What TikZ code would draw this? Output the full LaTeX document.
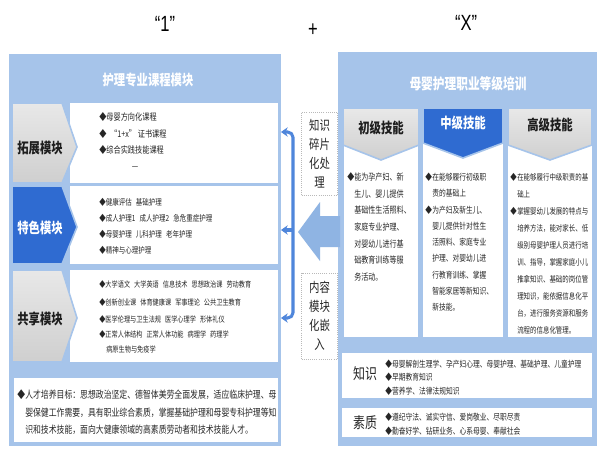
\documentclass[tikz,border=0pt]{standalone}
\usepackage{fontspec}
\setmainfont{Noto Sans CJK SC}[FakeStretch=0.78]
\newfontfamily\latfont{Liberation Sans}[FakeStretch=0.75]
\usetikzlibrary{arrows.meta}
\definecolor{panelblue}{HTML}{A6C4EA}
\definecolor{tabblue}{HTML}{2F6BD1}
\definecolor{tabgrayA}{HTML}{E8E8E8}
\definecolor{tabgrayB}{HTML}{CFCFCF}
\definecolor{txt}{HTML}{262626}
\definecolor{labtxt}{HTML}{1E1E1E}
\definecolor{arrowblue}{HTML}{8FB4E3}
\definecolor{brk}{HTML}{4F86DB}
\newcommand\myfs[1]{\fontsize{#1}{#1}\selectfont}
\newcommand\gp{\hspace{0.5em}}
\begin{document}
\begin{tikzpicture}[x=0.75pt,y=-0.75pt,
  sz/.style 2 args={minimum width=#1*0.75pt, minimum height=#2*0.75pt, inner sep=0pt, outer sep=0pt},
  panel/.style={fill=panelblue, draw=none},
  wbox/.style={fill=white, draw=none},
  graytab/.style={top color=tabgrayA, bottom color=tabgrayB, draw=panelblue, line width=1.2pt},
  bluetab/.style={fill=tabblue, draw=panelblue, line width=1.2pt},
  lab/.style={inner sep=0pt, text=labtxt, font=\myfs{10.9}\bfseries},
  wlab/.style={lab, text=white},
  itm/.style={anchor=west, inner sep=0pt, text=txt},
  dbox/.style={draw=gray!55, densely dotted, line width=0.6pt, fill=white, align=center,
               text=txt, font=\fontsize{10}{14.2}\selectfont},
  brkline/.style={draw=brk, line width=2.3pt, line join=round, rounded corners=4pt}
]
\useasboundingbox (0,0) rectangle (598,452);
\fill[white] (0,0) rectangle (598,452);

% ---- titles ----
\node[inner sep=0pt, font=\latfont\myfs{16.5}] (t1) at (165,24) {“1”};
\node[inner sep=0pt, font=\latfont\myfs{16.5}] (tplus) at (313,30) {+};
\node[inner sep=0pt, font=\latfont\myfs{16.5}] (tx) at (466,23) {“X”};

% ---- left panel ----
\node[panel, sz={272}{392}] (lp) at (145,250) {};
\node[wlab, font=\myfs{10.9}\bfseries] (lhead) at (148,80) {护理专业课程模块};

\node[wbox, sz={208}{80}] (r1) at (174,143) {};
\node[wbox, sz={208}{78}] (r2) at (174,225) {};
\node[wbox, sz={208}{92}] (r3) at (174,316) {};
\node[wbox, sz={264}{64}] (r4) at (146,410) {};

\filldraw[graytab] (12,103) -- (62,103) -- (77,147) -- (62,183) -- (12,183) -- cycle;
\filldraw[bluetab] (12,186) -- (62,186) -- (77,227) -- (62,264) -- (12,264) -- cycle;
\filldraw[graytab] (12,270) -- (62,270) -- (77,318) -- (62,362) -- (12,362) -- cycle;
\node[lab] (l1) at (40,148) {拓展模块};
\node[wlab] (l2) at (40,228) {特色模块};
\node[lab] (l3) at (40,319) {共享模块};

% row 1 items
\begin{scope}[every node/.append style={font=\myfs{6.9}}]
\node[itm] (i11) at (99,117) {◆母婴方向化课程};
\node[itm] (i12) at (99,134) {◆\hspace{0.4em}“1+x”\hspace{0.2em}证书课程};
\node[itm] (i13) at (99,150) {◆综合实践技能课程};
\node[inner sep=0pt, text=txt] (i14) at (135,168) {—};
\end{scope}
% row 2 items
\begin{scope}[every node/.append style={font=\myfs{6.25}}]
\node[itm] (i21) at (99,202) {◆健康评估\gp 基础护理};
\node[itm] (i22) at (99,218) {◆成人护理1\gp 成人护理2\gp 急危重症护理};
\node[itm] (i23) at (99,234) {◆母婴护理\gp 儿科护理\gp 老年护理};
\node[itm] (i24) at (99,250) {◆精神与心理护理};
\end{scope}
% row 3 items
\begin{scope}[every node/.append style={font=\myfs{5.95}}]
\node[itm] (i31) at (99,284) {◆大学语文\gp 大学英语\gp 信息技术\gp 思想政治课\gp 劳动教育};
\node[itm] (i32) at (99,302) {◆创新创业课\gp 体育健康课\gp 军事理论\gp 公共卫生教育};
\node[itm] (i33) at (99,319) {◆医学伦理与卫生法规\gp 医学心理学\gp 形体礼仪};
\node[itm] (i34) at (99,334) {◆正常人体结构\gp 正常人体功能\gp 病理学\gp 药理学};
\node[itm] (i35) at (106,349) {病原生物与免疫学};
\end{scope}
% bottom goal text
\begin{scope}[every node/.append style={font=\myfs{7.55}}]
\node[itm] (g0) at (17,395) {◆};
\node[itm] (g1) at (25,395) {人才培养目标：思想政治坚定、德智体美劳全面发展，适应临床护理、母};
\node[itm] (g2) at (25,413) {婴保健工作需要，具有职业综合素质，掌握基础护理和母婴专科护理等知};
\node[itm] (g3) at (25,430) {识和技术技能，面向大健康领域的高素质劳动者和技术技能人才。};
\end{scope}

% ---- right panel ----
\node[panel, sz={259}{394}] (rp) at (467.5,249) {};
\node[wlab, font=\myfs{11.25}\bfseries] (rhead) at (468,84) {母婴护理职业等级培训};

\node[wbox, sz={74}{194}] (c1) at (381,240) {};
\node[wbox, sz={80}{194}] (c2) at (463,240) {};
\node[wbox, sz={84}{194}] (c3) at (550,240) {};
\filldraw[graytab] (343,108) -- (419,108) -- (419,145) -- (381,160) -- (343,145) -- cycle;
\filldraw[bluetab] (423,108) -- (503,108) -- (503,143) -- (463,158) -- (423,143) -- cycle;
\filldraw[graytab] (508,108) -- (592,108) -- (592,145) -- (550,160) -- (508,145) -- cycle;
\node[lab] (h1) at (381,128) {初级技能};
\node[wlab] (h2) at (463,123) {中级技能};
\node[lab] (h3) at (550,125) {高级技能};

% column 1
\begin{scope}[every node/.append style={font=\myfs{6.8}}]
\node[itm] (c1b) at (347,177) {◆};
\foreach \t [count=\i] in {能为孕产妇、新,生儿、婴儿提供,基础性生活照料、,家庭专业护理、,对婴幼儿进行基,础教育训练等服,务活动。}
  \node[itm] (c1l\i) at (354,{177+(\i-1)*16.7}) {\t};
\end{scope}
% column 2
\begin{scope}[every node/.append style={font=\myfs{6.5}}]
\node[itm] (c2b1) at (425,177) {◆};
\foreach \t [count=\i] in {在能够履行初级职,责的基础上}
  \node[itm] (c2a\i) at (432,{177+(\i-1)*16.3}) {\t};
\node[itm] (c2b2) at (425,210) {◆};
\foreach \t [count=\i] in {为产妇及新生儿、,婴儿提供针对性生,活照料、家庭专业,护理、对婴幼儿进,行教育训练、掌握,智能家居等新知识、,新技能。}
  \node[itm] (c2c\i) at (432,{210+(\i-1)*16.2}) {\t};
\end{scope}
% column 3
\begin{scope}[every node/.append style={font=\myfs{6.2}}]
\node[itm] (c3b1) at (510,177) {◆};
\foreach \t [count=\i] in {在能够履行中级职责的基,础上}
  \node[itm] (c3a\i) at (517,{177+(\i-1)*17}) {\t};
\node[itm] (c3b2) at (510,211) {◆};
\foreach \t [count=\i] in {掌握婴幼儿发展的特点与,培养方法，能对家长、低,级别母婴护理人员进行培,训、指导，掌握家庭小儿,推拿知识、基础的岗位管,理知识，能依据信息化平,台，进行服务资源和服务,流程的信息化管理。}
  \node[itm] (c3c\i) at (517,{211+(\i-1)*17}) {\t};
\end{scope}

% knowledge / quality boxes
\node[wbox, sz={250}{45}] (kb) at (467,375.5) {};
\node[wbox, sz={250}{29}] (qb) at (467,422.5) {};
\node[inner sep=0pt, text=txt, font=\myfs{11.5}] (kt) at (365,374) {知识};
\node[inner sep=0pt, text=txt, font=\myfs{11.5}] (qt) at (365,423) {素质};
\begin{scope}[every node/.append style={font=\myfs{6.5}}]
\node[itm] (k1) at (385,364) {◆母婴解剖生理学、孕产妇心理、母婴护理、基础护理、儿童护理};
\node[itm] (k2) at (385,377) {◆早期教育知识};
\node[itm] (k3) at (385,391) {◆营养学、法律法规知识};
\node[itm] (q1) at (385,417) {◆遵纪守法、诚实守信、爱岗敬业、尽职尽责};
\node[itm] (q2) at (385,431) {◆勤奋好学、钻研业务、心系母婴、奉献社会};
\end{scope}

% ---- middle ----
\node[dbox, sz={36}{83}] (d1) at (319.5,153.5) {知识\\碎片\\化处\\理};
\node[dbox, sz={36}{86}] (d2) at (319.5,316) {内容\\模块\\化嵌\\入};

\fill[arrowblue] (298,232) -- (320,202) -- (320,216) -- (340,216) -- (340,247) -- (320,247) -- (320,261) -- cycle;

\coordinate (bt) at (293,132);
\coordinate (bm) at (293,230);
\coordinate (bb) at (293,318);
\draw[brkline, {Stealth[length=5pt,width=7pt]}-{Stealth[length=5pt,width=7pt]}]
  (lp.east |- bt) -- (bt) -- (bb) -- (lp.east |- bb);
\draw[brkline, -{Stealth[length=5pt,width=7pt]}] (bm) -- (lp.east |- bm);
\end{tikzpicture}
\end{document}
